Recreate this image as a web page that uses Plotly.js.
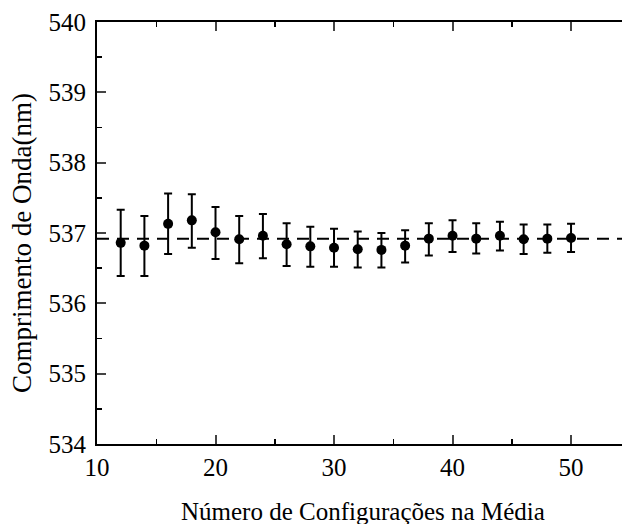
<!DOCTYPE html>
<html><head><meta charset="utf-8">
<script src="https://cdn.plot.ly/plotly-3.0.1.min.js"></script>
<style>body{margin:0;background:#fff}</style>
</head><body><div id="chart" style="width:622px;height:524px"></div>
<script>
const nConfigs = [12,14,16,18,20,22,24,26,28,30,32,34,36,38,40,42,44,46,48,50];
const wavelength = [536.86,536.82,537.13,537.18,537.01,536.91,536.96,536.84,536.81,536.79,536.77,536.76,536.82,536.92,536.96,536.92,536.96,536.91,536.92,536.93];
const errPlus  = [0.47,0.42,0.43,0.37,0.36,0.33,0.31,0.30,0.28,0.27,0.25,0.24,0.22,0.22,0.22,0.22,0.20,0.21,0.20,0.20];
const errMinus = [0.47,0.43,0.43,0.39,0.38,0.34,0.32,0.31,0.29,0.27,0.26,0.25,0.24,0.24,0.23,0.21,0.21,0.21,0.20,0.20];
const refLineX = [10,55];
const refLineY = [536.92,536.92];
const xTicks = [10,20,30,40,50];
const yTicks = [534,535,536,537,538,539,540];

const font = "Liberation Serif";
const traces = [
  {x: refLineX, y: refLineY, mode:'lines', line:{color:'#000', width:2, dash:'12px,8px'}, hoverinfo:'skip'},
  {x: nConfigs, y: wavelength, mode:'markers', marker:{color:'#000', size:10},
   error_y:{type:'data', symmetric:false, array:errPlus, arrayminus:errMinus, color:'#000', thickness:2, width:4}}
];
const layout = {
  width:622, height:524, showlegend:false,
  margin:{l:97, r:0, t:22, b:80},
  paper_bgcolor:'#fff', plot_bgcolor:'#fff',
  font:{family:font, color:'#000', size:25},
  xaxis:{range:[10,54.3], tickvals:xTicks, ticks:'inside', ticklen:9, tickwidth:2,
    showline:true, linewidth:2, linecolor:'#000', mirror:'ticks', showgrid:false, zeroline:false,
    minor:{dtick:5, ticks:'inside', ticklen:5, tickwidth:1.5, tickcolor:'#000', showgrid:false},
    tickfont:{family:font, size:25, color:'#000'}, automargin:false},
  yaxis:{range:[534,540], tickvals:yTicks, ticks:'inside', ticklen:9, tickwidth:2,
    showline:true, linewidth:2, linecolor:'#000', mirror:false, showgrid:false, zeroline:false,
    minor:{dtick:0.5, ticks:'inside', ticklen:5, tickwidth:1.5, tickcolor:'#000', showgrid:false},
    tickfont:{family:font, size:25, color:'#000'}, ticklabelstandoff:4, automargin:false},
  annotations:[
    {text:'Número de Configurações na Média', xref:'paper', yref:'paper',
     x:(363-97)/525, y:0, yshift:-67, xanchor:'center', yanchor:'middle', showarrow:false,
     font:{family:font, size:25, color:'#000'}},
    {text:'Comprimento de Onda(nm)', xref:'paper', yref:'paper', textangle:-90,
     x:0, xshift:-75, y:(444-243)/422, xanchor:'center', yanchor:'middle', showarrow:false,
     font:{family:font, size:27, color:'#000'}}]
};
Plotly.newPlot('chart', traces, layout, {displayModeBar:false, staticPlot:true});
</script></body></html>
